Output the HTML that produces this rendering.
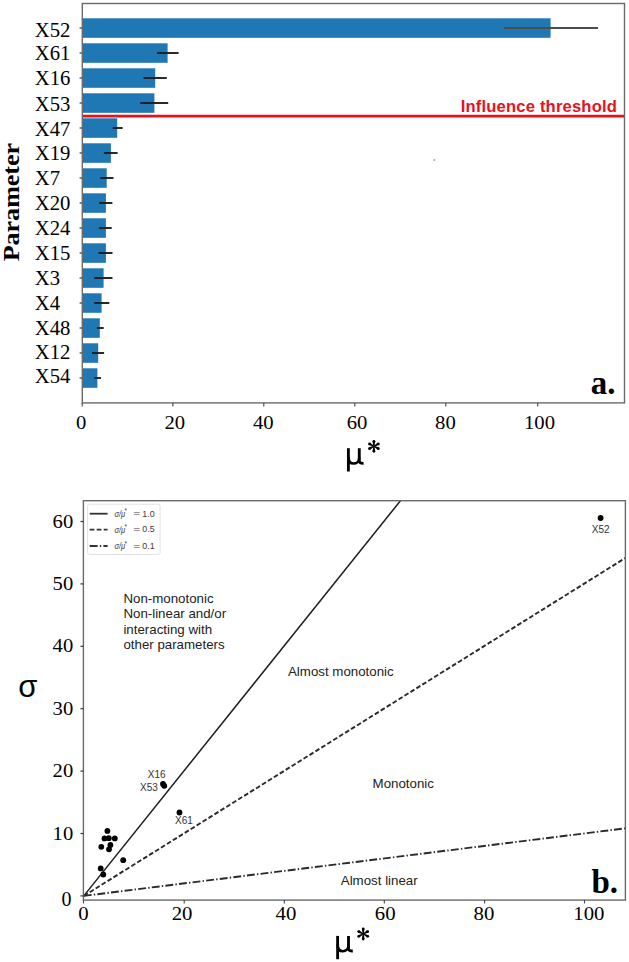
<!DOCTYPE html>
<html><head><meta charset="utf-8"><style>
html,body{margin:0;padding:0;background:#fff;}
body{width:629px;height:962px;overflow:hidden;}
svg{display:block;}
</style></head><body>
<svg width="629" height="962" viewBox="0 0 629 962">
<rect width="629" height="962" fill="#fff"/>
<rect x="82.3" y="18.3" width="468.3" height="19.5" fill="#1f77b4"/>
<rect x="82.3" y="43.3" width="85.3" height="19.5" fill="#1f77b4"/>
<rect x="82.3" y="68.3" width="72.9" height="19.5" fill="#1f77b4"/>
<rect x="82.3" y="93.3" width="72.1" height="19.5" fill="#1f77b4"/>
<rect x="82.3" y="118.3" width="34.9" height="19.5" fill="#1f77b4"/>
<rect x="82.3" y="143.3" width="28.6" height="19.5" fill="#1f77b4"/>
<rect x="82.3" y="168.3" width="24.4" height="19.5" fill="#1f77b4"/>
<rect x="82.3" y="193.3" width="23.6" height="19.5" fill="#1f77b4"/>
<rect x="82.3" y="218.3" width="23.6" height="19.5" fill="#1f77b4"/>
<rect x="82.3" y="243.3" width="23.6" height="19.5" fill="#1f77b4"/>
<rect x="82.3" y="268.3" width="21.3" height="19.5" fill="#1f77b4"/>
<rect x="82.3" y="293.3" width="19.3" height="19.5" fill="#1f77b4"/>
<rect x="82.3" y="318.3" width="17.5" height="19.5" fill="#1f77b4"/>
<rect x="82.3" y="343.3" width="15.9" height="19.5" fill="#1f77b4"/>
<rect x="82.3" y="368.3" width="15.1" height="19.5" fill="#1f77b4"/>
<line x1="504.0" y1="28.0" x2="598.0" y2="28.0" stroke="#4d4d4d" stroke-width="1.9"/>
<line x1="79.6" y1="28.0" x2="82.3" y2="28.0" stroke="#333" stroke-width="1.2"/>
<text transform="translate(34.7,36.5) scale(1.035,1)" font-family='"Liberation Serif", serif' font-size="20" fill="#000">X52</text>
<line x1="157.1" y1="53.0" x2="178.6" y2="53.0" stroke="#1e1e1e" stroke-width="1.9"/>
<line x1="79.6" y1="53.0" x2="82.3" y2="53.0" stroke="#333" stroke-width="1.2"/>
<text transform="translate(34.7,60.4) scale(1.035,1)" font-family='"Liberation Serif", serif' font-size="20" fill="#000">X61</text>
<line x1="143.6" y1="78.0" x2="166.8" y2="78.0" stroke="#1e1e1e" stroke-width="1.9"/>
<line x1="79.6" y1="78.0" x2="82.3" y2="78.0" stroke="#333" stroke-width="1.2"/>
<text transform="translate(34.7,84.5) scale(1.035,1)" font-family='"Liberation Serif", serif' font-size="20" fill="#000">X16</text>
<line x1="140.2" y1="103.0" x2="168.2" y2="103.0" stroke="#1e1e1e" stroke-width="1.9"/>
<line x1="79.6" y1="103.0" x2="82.3" y2="103.0" stroke="#333" stroke-width="1.2"/>
<text transform="translate(34.7,110.5) scale(1.035,1)" font-family='"Liberation Serif", serif' font-size="20" fill="#000">X53</text>
<line x1="112.7" y1="128.0" x2="122.6" y2="128.0" stroke="#1e1e1e" stroke-width="1.9"/>
<line x1="79.6" y1="128.0" x2="82.3" y2="128.0" stroke="#333" stroke-width="1.2"/>
<text transform="translate(34.7,135.5) scale(1.035,1)" font-family='"Liberation Serif", serif' font-size="20" fill="#000">X47</text>
<line x1="103.9" y1="153.0" x2="117.6" y2="153.0" stroke="#1e1e1e" stroke-width="1.9"/>
<line x1="79.6" y1="153.0" x2="82.3" y2="153.0" stroke="#333" stroke-width="1.2"/>
<text transform="translate(34.7,160.4) scale(1.035,1)" font-family='"Liberation Serif", serif' font-size="20" fill="#000">X19</text>
<line x1="100.3" y1="178.0" x2="113.5" y2="178.0" stroke="#1e1e1e" stroke-width="1.9"/>
<line x1="79.6" y1="178.0" x2="82.3" y2="178.0" stroke="#333" stroke-width="1.2"/>
<text transform="translate(34.7,185.1) scale(1.035,1)" font-family='"Liberation Serif", serif' font-size="20" fill="#000">X7</text>
<line x1="99.2" y1="203.0" x2="112.4" y2="203.0" stroke="#1e1e1e" stroke-width="1.9"/>
<line x1="79.6" y1="203.0" x2="82.3" y2="203.0" stroke="#333" stroke-width="1.2"/>
<text transform="translate(34.7,210.1) scale(1.035,1)" font-family='"Liberation Serif", serif' font-size="20" fill="#000">X20</text>
<line x1="99.2" y1="228.0" x2="111.7" y2="228.0" stroke="#1e1e1e" stroke-width="1.9"/>
<line x1="79.6" y1="228.0" x2="82.3" y2="228.0" stroke="#333" stroke-width="1.2"/>
<text transform="translate(34.7,234.8) scale(1.035,1)" font-family='"Liberation Serif", serif' font-size="20" fill="#000">X24</text>
<line x1="98.5" y1="253.0" x2="112.5" y2="253.0" stroke="#1e1e1e" stroke-width="1.9"/>
<line x1="79.6" y1="253.0" x2="82.3" y2="253.0" stroke="#333" stroke-width="1.2"/>
<text transform="translate(34.7,259.7) scale(1.035,1)" font-family='"Liberation Serif", serif' font-size="20" fill="#000">X15</text>
<line x1="94.2" y1="278.0" x2="112.5" y2="278.0" stroke="#1e1e1e" stroke-width="1.9"/>
<line x1="79.6" y1="278.0" x2="82.3" y2="278.0" stroke="#333" stroke-width="1.2"/>
<text transform="translate(34.7,284.7) scale(1.035,1)" font-family='"Liberation Serif", serif' font-size="20" fill="#000">X3</text>
<line x1="94.2" y1="303.0" x2="109.3" y2="303.0" stroke="#1e1e1e" stroke-width="1.9"/>
<line x1="79.6" y1="303.0" x2="82.3" y2="303.0" stroke="#333" stroke-width="1.2"/>
<text transform="translate(34.7,309.6) scale(1.035,1)" font-family='"Liberation Serif", serif' font-size="20" fill="#000">X4</text>
<line x1="96.8" y1="328.0" x2="103.7" y2="328.0" stroke="#1e1e1e" stroke-width="1.9"/>
<line x1="79.6" y1="328.0" x2="82.3" y2="328.0" stroke="#333" stroke-width="1.2"/>
<text transform="translate(34.7,334.7) scale(1.035,1)" font-family='"Liberation Serif", serif' font-size="20" fill="#000">X48</text>
<line x1="92.0" y1="353.0" x2="104.1" y2="353.0" stroke="#1e1e1e" stroke-width="1.9"/>
<line x1="79.6" y1="353.0" x2="82.3" y2="353.0" stroke="#333" stroke-width="1.2"/>
<text transform="translate(34.7,358.7) scale(1.035,1)" font-family='"Liberation Serif", serif' font-size="20" fill="#000">X12</text>
<line x1="94.2" y1="378.0" x2="101.0" y2="378.0" stroke="#1e1e1e" stroke-width="1.9"/>
<line x1="79.6" y1="378.0" x2="82.3" y2="378.0" stroke="#333" stroke-width="1.2"/>
<text transform="translate(34.7,382.8) scale(1.035,1)" font-family='"Liberation Serif", serif' font-size="20" fill="#000">X54</text>
<line x1="82.3" y1="116.1" x2="624.5" y2="116.1" stroke="#e8111b" stroke-width="2.8"/>
<text x="617.1" y="112.2" text-anchor="end" font-family='"Liberation Sans", sans-serif' font-weight="bold" font-size="16.6" letter-spacing="0.18" fill="#e8111b">Influence threshold</text>
<circle cx="434.3" cy="160" r="1.1" fill="#aaa"/>
<rect x="82.3" y="3.5" width="542.2" height="399.4" fill="none" stroke="#6a6a6a" stroke-width="1.4"/>
<line x1="82.2" y1="402.9" x2="82.2" y2="406.5" stroke="#444" stroke-width="1.1"/>
<text transform="translate(81.15,429.3) scale(1.035,0.99)" text-anchor="middle" font-family='"Liberation Serif", serif' font-size="20" fill="#000">0</text>
<line x1="172.9" y1="402.9" x2="172.9" y2="406.5" stroke="#444" stroke-width="1.1"/>
<text transform="translate(174.75,429.3) scale(1.035,0.99)" text-anchor="middle" font-family='"Liberation Serif", serif' font-size="20" fill="#000">20</text>
<line x1="263.8" y1="402.9" x2="263.8" y2="406.5" stroke="#444" stroke-width="1.1"/>
<text transform="translate(263.35,429.3) scale(1.035,0.99)" text-anchor="middle" font-family='"Liberation Serif", serif' font-size="20" fill="#000">40</text>
<line x1="354.8" y1="402.9" x2="354.8" y2="406.5" stroke="#444" stroke-width="1.1"/>
<text transform="translate(357.00,429.3) scale(1.035,0.99)" text-anchor="middle" font-family='"Liberation Serif", serif' font-size="20" fill="#000">60</text>
<line x1="445.8" y1="402.9" x2="445.8" y2="406.5" stroke="#444" stroke-width="1.1"/>
<text transform="translate(445.45,429.3) scale(1.035,0.99)" text-anchor="middle" font-family='"Liberation Serif", serif' font-size="20" fill="#000">80</text>
<line x1="537.7" y1="402.9" x2="537.7" y2="406.5" stroke="#444" stroke-width="1.1"/>
<text transform="translate(539.50,429.3) scale(1.035,0.99)" text-anchor="middle" font-family='"Liberation Serif", serif' font-size="20" fill="#000">100</text>
<g transform="translate(346.97,448.2) scale(1.0)" fill="none" stroke="#000" stroke-width="2.85"><path d="M1.42,0 V23.3"/><path d="M12.3,0 V12.6 Q12.3,15.3 16.6,15.1" /><path d="M1.42,8.5 C1.42,13.6 3.9,15.35 6.6,15.35 C9.6,15.35 12.3,13.2 12.3,9.2" stroke-width="2.6"/></g>
<g fill="#000"><polygon points="374.40,446.30 375.25,441.25 372.55,441.25 373.40,446.30"/><circle cx="373.90" cy="441.25" r="1.35"/><polygon points="373.40,446.30 372.55,451.35 375.25,451.35 374.40,446.30"/><circle cx="373.90" cy="451.35" r="1.35"/><polygon points="374.13,446.74 378.99,445.12 377.73,442.74 373.67,445.86"/><circle cx="378.36" cy="443.93" r="1.35"/><polygon points="373.67,445.86 368.81,447.48 370.07,449.86 374.13,446.74"/><circle cx="369.44" cy="448.67" r="1.35"/><polygon points="373.67,446.74 377.73,449.86 378.99,447.48 374.13,445.86"/><circle cx="378.36" cy="448.67" r="1.35"/><polygon points="374.13,445.86 370.07,442.74 368.81,445.12 373.67,446.74"/><circle cx="369.44" cy="443.93" r="1.35"/></g>
<text transform="translate(19.2,202.1) rotate(-90)" text-anchor="middle" font-family='"Liberation Serif", serif' font-weight="bold" font-size="24" textLength="118.5" lengthAdjust="spacingAndGlyphs" fill="#000">Parameter</text>
<text x="615.4" y="393.8" text-anchor="end" font-family='"Liberation Serif", serif' font-weight="bold" font-size="33" fill="#000">a.</text>
<defs><clipPath id="cb"><rect x="83.4" y="500.7" width="542.0" height="399.40000000000003"/></clipPath></defs>
<g clip-path="url(#cb)"><line x1="83.8" y1="895.9" x2="483.8" y2="396.69999999999993" stroke="#1e1e1e" stroke-width="1.5"/><line x1="83.8" y1="895.9" x2="625.3" y2="558.0039999999999" stroke="#2a2a2a" stroke-width="1.9" stroke-dasharray="4.7,2.3"/><line x1="83.8" y1="895.9" x2="625.3" y2="828.3208" stroke="#2a2a2a" stroke-width="1.9" stroke-dasharray="7.9,2.2,1.4,2.2"/></g>
<circle cx="107.4" cy="830.9" r="2.9" fill="#000"/>
<circle cx="104.5" cy="838.4" r="2.9" fill="#000"/>
<circle cx="108.8" cy="838.2" r="2.9" fill="#000"/>
<circle cx="114.8" cy="838.4" r="2.9" fill="#000"/>
<circle cx="110.4" cy="845" r="2.9" fill="#000"/>
<circle cx="101.3" cy="846.8" r="2.9" fill="#000"/>
<circle cx="109" cy="849.3" r="2.9" fill="#000"/>
<circle cx="123.2" cy="860.2" r="2.9" fill="#000"/>
<circle cx="100.7" cy="868.4" r="2.9" fill="#000"/>
<circle cx="103.3" cy="874.5" r="2.9" fill="#000"/>
<circle cx="163.0" cy="784.0" r="2.9" fill="#000"/>
<circle cx="164.3" cy="785.8" r="2.9" fill="#000"/>
<circle cx="179.5" cy="812.5" r="2.9" fill="#000"/>
<circle cx="600.6" cy="518" r="2.9" fill="#000"/>
<text x="591.8" y="533.0" font-family='"Liberation Sans", sans-serif' font-size="10" fill="#333">X52</text>
<text x="147.8" y="778.0" font-family='"Liberation Sans", sans-serif' font-size="10" fill="#333">X16</text>
<text x="140.0" y="791.2" font-family='"Liberation Sans", sans-serif' font-size="10" fill="#333">X53</text>
<text x="175.0" y="824.0" font-family='"Liberation Sans", sans-serif' font-size="10" fill="#333">X61</text>
<text x="123.4" y="602.6" font-family='"Liberation Sans", sans-serif' font-size="13.3" fill="#222">Non-monotonic</text>
<text x="123.4" y="618.1" font-family='"Liberation Sans", sans-serif' font-size="13.3" fill="#222">Non-linear and/or</text>
<text x="123.4" y="633.6" font-family='"Liberation Sans", sans-serif' font-size="13.3" fill="#222">interacting with</text>
<text x="123.4" y="649.1" font-family='"Liberation Sans", sans-serif' font-size="13.3" fill="#222">other parameters</text>
<text x="288.0" y="675.6" font-family='"Liberation Sans", sans-serif' font-size="13.3" fill="#222">Almost monotonic</text>
<text x="372.6" y="787.9" font-family='"Liberation Sans", sans-serif' font-size="13.3" fill="#222">Monotonic</text>
<text x="340.8" y="884.6" font-family='"Liberation Sans", sans-serif' font-size="13.3" fill="#222">Almost linear</text>
<rect x="87.6" y="504.2" width="72.5" height="50.3" rx="2" fill="#fff" stroke="#e2e2e2" stroke-width="1"/>
<line x1="89.7" y1="513.7" x2="107.6" y2="513.7" stroke="#333" stroke-width="1.8"/>
<text x="114.4" y="516.7" font-family='"Liberation Sans", sans-serif' font-size="9.6" font-style="italic" fill="#3a3a3a" textLength="10.8" lengthAdjust="spacingAndGlyphs">σ/μ</text>
<text x="124.5" y="513.4" font-family='"Liberation Sans", sans-serif' font-size="6.5" fill="#3a3a3a">*</text>
<text x="133.3" y="516.3" font-family='"Liberation Sans", sans-serif' font-size="8.8" fill="#3a3a3a" textLength="7.0" lengthAdjust="spacingAndGlyphs">=</text>
<text x="142.3" y="516.5" font-family='"Liberation Sans", sans-serif' font-size="8.9" fill="#3a3a3a">1.0</text>
<line x1="89.7" y1="529.6" x2="107.6" y2="529.6" stroke="#333" stroke-width="1.8" stroke-dasharray="4.7,2.3"/>
<text x="114.4" y="532.6" font-family='"Liberation Sans", sans-serif' font-size="9.6" font-style="italic" fill="#3a3a3a" textLength="10.8" lengthAdjust="spacingAndGlyphs">σ/μ</text>
<text x="124.5" y="529.3" font-family='"Liberation Sans", sans-serif' font-size="6.5" fill="#3a3a3a">*</text>
<text x="133.3" y="532.2" font-family='"Liberation Sans", sans-serif' font-size="8.8" fill="#3a3a3a" textLength="7.0" lengthAdjust="spacingAndGlyphs">=</text>
<text x="142.3" y="532.4" font-family='"Liberation Sans", sans-serif' font-size="8.9" fill="#3a3a3a">0.5</text>
<line x1="89.7" y1="546.0" x2="107.6" y2="546.0" stroke="#333" stroke-width="1.8" stroke-dasharray="7.9,2.2,1.4,2.2"/>
<text x="114.4" y="549.0" font-family='"Liberation Sans", sans-serif' font-size="9.6" font-style="italic" fill="#3a3a3a" textLength="10.8" lengthAdjust="spacingAndGlyphs">σ/μ</text>
<text x="124.5" y="545.7" font-family='"Liberation Sans", sans-serif' font-size="6.5" fill="#3a3a3a">*</text>
<text x="133.3" y="548.6" font-family='"Liberation Sans", sans-serif' font-size="8.8" fill="#3a3a3a" textLength="7.0" lengthAdjust="spacingAndGlyphs">=</text>
<text x="142.3" y="548.8" font-family='"Liberation Sans", sans-serif' font-size="8.9" fill="#3a3a3a">0.1</text>
<rect x="83.4" y="500.7" width="542.0" height="399.4" fill="none" stroke="#6a6a6a" stroke-width="1.4"/>
<line x1="80.5" y1="895.9" x2="83.4" y2="895.9" stroke="#333" stroke-width="1.2"/>
<text x="71.4" y="906.4" text-anchor="end" font-family='"Liberation Serif", serif' font-size="20" fill="#000">0</text>
<line x1="80.5" y1="833.5" x2="83.4" y2="833.5" stroke="#333" stroke-width="1.2"/>
<text transform="translate(73.2,839.6) scale(1.03,0.975)" text-anchor="end" font-family='"Liberation Serif", serif' font-size="20" fill="#000">10</text>
<line x1="80.5" y1="771.1" x2="83.4" y2="771.1" stroke="#333" stroke-width="1.2"/>
<text transform="translate(73.2,777.2) scale(1.03,0.975)" text-anchor="end" font-family='"Liberation Serif", serif' font-size="20" fill="#000">20</text>
<line x1="80.5" y1="708.7" x2="83.4" y2="708.7" stroke="#333" stroke-width="1.2"/>
<text transform="translate(73.2,714.8) scale(1.03,0.975)" text-anchor="end" font-family='"Liberation Serif", serif' font-size="20" fill="#000">30</text>
<line x1="80.5" y1="646.3" x2="83.4" y2="646.3" stroke="#333" stroke-width="1.2"/>
<text transform="translate(73.2,652.4) scale(1.03,0.975)" text-anchor="end" font-family='"Liberation Serif", serif' font-size="20" fill="#000">40</text>
<line x1="80.5" y1="583.9" x2="83.4" y2="583.9" stroke="#333" stroke-width="1.2"/>
<text transform="translate(73.2,590.0) scale(1.03,0.975)" text-anchor="end" font-family='"Liberation Serif", serif' font-size="20" fill="#000">50</text>
<line x1="80.5" y1="521.5" x2="83.4" y2="521.5" stroke="#333" stroke-width="1.2"/>
<text transform="translate(73.2,527.6) scale(1.03,0.975)" text-anchor="end" font-family='"Liberation Serif", serif' font-size="20" fill="#000">60</text>
<line x1="83.5" y1="900.1" x2="83.5" y2="903.4" stroke="#444" stroke-width="1.1"/>
<text transform="translate(83.50,919.8) scale(1.04,0.975)" text-anchor="middle" font-family='"Liberation Serif", serif' font-size="20" fill="#000">0</text>
<line x1="184.2" y1="900.1" x2="184.2" y2="903.4" stroke="#444" stroke-width="1.1"/>
<text transform="translate(182.10,919.8) scale(1.04,0.975)" text-anchor="middle" font-family='"Liberation Serif", serif' font-size="20" fill="#000">20</text>
<line x1="284.3" y1="900.1" x2="284.3" y2="903.4" stroke="#444" stroke-width="1.1"/>
<text transform="translate(285.95,919.8) scale(1.04,0.975)" text-anchor="middle" font-family='"Liberation Serif", serif' font-size="20" fill="#000">40</text>
<line x1="384.3" y1="900.1" x2="384.3" y2="903.4" stroke="#444" stroke-width="1.1"/>
<text transform="translate(385.25,919.8) scale(1.04,0.975)" text-anchor="middle" font-family='"Liberation Serif", serif' font-size="20" fill="#000">60</text>
<line x1="484.6" y1="900.1" x2="484.6" y2="903.4" stroke="#444" stroke-width="1.1"/>
<text transform="translate(484.00,919.8) scale(1.04,0.975)" text-anchor="middle" font-family='"Liberation Serif", serif' font-size="20" fill="#000">80</text>
<line x1="584.5" y1="900.1" x2="584.5" y2="903.4" stroke="#444" stroke-width="1.1"/>
<text transform="translate(588.90,919.8) scale(1.04,0.975)" text-anchor="middle" font-family='"Liberation Serif", serif' font-size="20" fill="#000">100</text>
<g transform="translate(336.2,935.9) scale(1.0)" fill="none" stroke="#000" stroke-width="2.85"><path d="M1.42,0 V23.3"/><path d="M12.3,0 V12.6 Q12.3,15.3 16.6,15.1" /><path d="M1.42,8.5 C1.42,13.6 3.9,15.35 6.6,15.35 C9.6,15.35 12.3,13.2 12.3,9.2" stroke-width="2.6"/></g>
<g fill="#000"><polygon points="363.70,933.90 364.55,928.75 361.85,928.75 362.70,933.90"/><circle cx="363.20" cy="928.75" r="1.35"/><polygon points="362.70,933.90 361.85,939.05 364.55,939.05 363.70,933.90"/><circle cx="363.20" cy="939.05" r="1.35"/><polygon points="363.43,934.34 368.38,932.67 367.11,930.29 362.97,933.46"/><circle cx="367.75" cy="931.48" r="1.35"/><polygon points="362.97,933.46 358.02,935.13 359.29,937.51 363.43,934.34"/><circle cx="358.65" cy="936.32" r="1.35"/><polygon points="362.97,934.34 367.11,937.51 368.38,935.13 363.43,933.46"/><circle cx="367.75" cy="936.32" r="1.35"/><polygon points="363.43,933.46 359.29,930.29 358.02,932.67 362.97,934.34"/><circle cx="358.65" cy="931.48" r="1.35"/></g>
<text x="18.2" y="696.8" font-family='"Liberation Sans", sans-serif' font-size="31" fill="#000">σ</text>
<text x="618.0" y="892.7" text-anchor="end" font-family='"Liberation Serif", serif' font-weight="bold" font-size="33" fill="#000">b.</text>
</svg>
</body></html>
